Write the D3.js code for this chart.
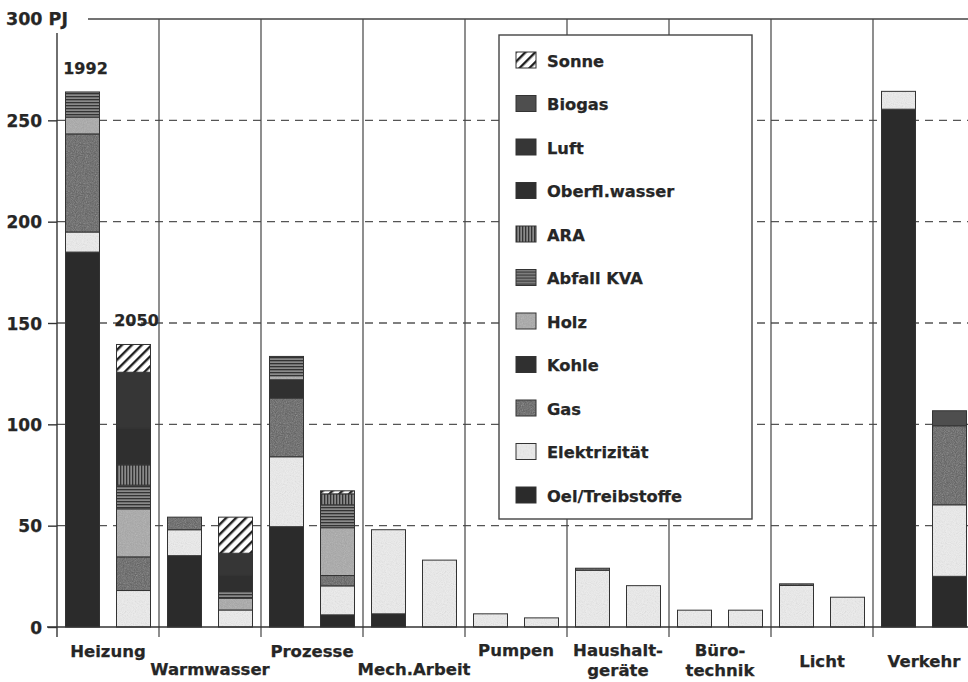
<!DOCTYPE html>
<html>
<head>
<meta charset="utf-8">
<script src="https://cdn.jsdelivr.net/npm/d3@7"></script>
<style>
  body { margin: 0; background: #fff; }
  svg text { font-family: "DejaVu Sans", sans-serif; font-weight: bold; fill: #262626; stroke: #262626; stroke-width: 0.25px; }
</style>
</head>
<body>
<svg id="chart" width="968" height="682"></svg>
<script>
// categories (x axis) and the two years per category
const categories = ["Heizung", "Warmwasser", "Prozesse", "Mech.Arbeit", "Pumpen", "Haushaltgeräte", "Bürotechnik", "Licht", "Verkehr"];
const categoryLabels = [["Heizung"], ["Warmwasser"], ["Prozesse"], ["Mech.Arbeit"], ["Pumpen"], ["Haushalt-", "geräte"], ["Büro-", "technik"], ["Licht"], ["Verkehr"]];
const years = ["1992", "2050"];
const yTicks = [0, 50, 100, 150, 200, 250];

// values in PJ, order: [H92, H50, W92, W50, P92, P50, M92, M50, Pu92, Pu50, Ha92, Ha50, B92, B50, L92, L50, V92, V50]
const oel      = [185, 0,    35.2, 0,    49.5, 6,    6.5, 0,  0, 0,     0, 0,  0, 0,     0, 0,      255.5, 25];
const elektr   = [9.9, 18,   12.8, 8.4,  34.5, 14.3, 41.5, 33, 6.5, 4.5, 28, 20.4, 8.3, 8.3, 20.5, 14.7, 8.8, 35.3];
const gas      = [48.4, 16.6, 6.2, 0,    29, 5.1,    0, 0,  0, 0,     1, 0,  0, 0,     0.8, 0,    0, 39];
const kohle    = [0, 0,      0, 0,       9, 0,       0, 0,  0, 0,     0, 0,  0, 0,     0, 0,      0, 0];
const holz     = [8.3, 23.7, 0, 5.8,     2, 23.6,    0, 0,  0, 0,     0, 0,  0, 0,     0, 0,      0, 0];
const abfall   = [12.4, 11.7, 0, 3.3,    9.5, 11.3,  0, 0,  0, 0,     0, 0,  0, 0,     0, 0,      0, 0];
const ara      = [0, 10,     0, 0,       0, 5.4,     0, 0,  0, 0,     0, 0,  0, 0,     0, 0,      0, 0];
const oberfl   = [0, 18,     0, 8,       0, 0,       0, 0,  0, 0,     0, 0,  0, 0,     0, 0,      0, 0];
const luft     = [0, 27.7,   0, 10.9,    0, 0,       0, 0,  0, 0,     0, 0,  0, 0,     0, 0,      0, 0];
const biogas   = [0, 0,      0, 0,       0, 0,       0, 0,  0, 0,     0, 0,  0, 0,     0, 0,      0, 7.4];
const sonne    = [0, 13.7,   0, 17.8,    0, 1.5,     0, 0,  0, 0,     0, 0,  0, 0,     0, 0,      0, 0];

// stacking order bottom -> top
const carriers = [
  {key: "Oel/Treibstoffe", values: oel,    fill: "#2b2b2b"},
  {key: "Elektrizität",    values: elektr, fill: "url(#pElek)"},
  {key: "Gas",             values: gas,    fill: "url(#pGas)"},
  {key: "Kohle",           values: kohle,  fill: "#303030"},
  {key: "Holz",            values: holz,   fill: "url(#pHolz)"},
  {key: "Abfall KVA",      values: abfall, fill: "url(#pAbfall)"},
  {key: "ARA",             values: ara,    fill: "url(#pAra)"},
  {key: "Oberfl.wasser",   values: oberfl, fill: "#2f2f2f"},
  {key: "Luft",            values: luft,   fill: "#363636"},
  {key: "Biogas",          values: biogas, fill: "#4e4e4e"},
  {key: "Sonne",           values: sonne,  fill: "url(#pSonne)"}
];

// flatten into rows for d3.stack
const rows = [];
categories.forEach((c, ci) => {
  years.forEach((yr, yi) => {
    const r = {cat: c, year: yr};
    carriers.forEach(k => r[k.key] = k.values[ci * 2 + yi]);
    rows.push(r);
  });
});

const svg = d3.select("#chart");
const defs = svg.append("defs");

// fill patterns
const speckle = defs.append("filter").attr("id", "speckle").attr("x", 0).attr("y", 0).attr("width", 1).attr("height", 1);
speckle.append("feTurbulence").attr("type", "fractalNoise").attr("baseFrequency", 0.9).attr("numOctaves", 2).attr("seed", 3).attr("result", "n");
speckle.append("feColorMatrix").attr("in", "n").attr("type", "saturate").attr("values", 0).attr("result", "g");
speckle.append("feComponentTransfer").attr("in", "g").attr("result", "a")
  .append("feFuncA").attr("type", "linear").attr("slope", 0.35);
speckle.append("feComposite").attr("in", "a").attr("in2", "SourceGraphic").attr("operator", "atop");

const texPattern = (id, base) => {
  const p = defs.append("pattern").attr("id", id).attr("patternUnits", "userSpaceOnUse").attr("width", 40).attr("height", 40);
  p.append("rect").attr("width", 40).attr("height", 40).attr("fill", base).attr("filter", "url(#speckle)");
};
texPattern("pElek", "#eeeeee");
texPattern("pGas", "#5c5c5c");
texPattern("pHolz", "#a8a8a8");

const pS = defs.append("pattern").attr("id", "pSonne").attr("patternUnits", "userSpaceOnUse")
  .attr("width", 7).attr("height", 7).attr("patternTransform", "rotate(45)");
pS.append("rect").attr("width", 7).attr("height", 7).attr("fill", "#fff");
pS.append("rect").attr("width", 2.4).attr("height", 7).attr("fill", "#222");

const pA = defs.append("pattern").attr("id", "pAbfall").attr("patternUnits", "userSpaceOnUse").attr("width", 4).attr("height", 3);
pA.append("rect").attr("width", 4).attr("height", 3).attr("fill", "#8a8a8a");
pA.append("rect").attr("width", 4).attr("height", 1.3).attr("fill", "#333");

const pR = defs.append("pattern").attr("id", "pAra").attr("patternUnits", "userSpaceOnUse").attr("width", 3).attr("height", 4);
pR.append("rect").attr("width", 3).attr("height", 4).attr("fill", "#8a8a8a");
pR.append("rect").attr("width", 1.3).attr("height", 4).attr("fill", "#333");

// scales
const x = d3.scaleBand().domain(categories).range([57, 975]).paddingInner(0).paddingOuter(0);
const xYear = d3.scaleBand().domain(years).range([0, x.bandwidth()]).paddingInner(1 / 3).paddingOuter(1 / 6);
const y = d3.scaleLinear().domain([0, 300]).range([627, 19]);

// dashed grid lines
svg.append("g").selectAll("line")
  .data(yTicks.filter(d => d > 0))
  .join("line")
  .attr("x1", 57).attr("x2", 968)
  .attr("y1", d => y(d)).attr("y2", d => y(d))
  .attr("stroke", "#555").attr("stroke-width", 1.4).attr("stroke-dasharray", "8,6");

// top line at 300
svg.append("line").attr("x1", 88).attr("x2", 968).attr("y1", y(300)).attr("y2", y(300))
  .attr("stroke", "#444").attr("stroke-width", 1.4);

// category dividers
svg.append("g").selectAll("line")
  .data(categories.slice(1))
  .join("line")
  .attr("x1", d => x(d)).attr("x2", d => x(d))
  .attr("y1", y(300)).attr("y2", 637)
  .attr("stroke", "#444").attr("stroke-width", 1.2);

// stacked bars
const stack = d3.stack().keys(carriers.map(c => c.key));
const layers = stack(rows);
svg.append("g").selectAll("g")
  .data(layers)
  .join("g")
  .attr("fill", (d, i) => carriers[i].fill)
  .selectAll("rect")
  .data(d => d.filter(s => s[1] - s[0] > 0))
  .join("rect")
  .attr("x", d => x(d.data.cat) + xYear(d.data.year))
  .attr("width", xYear.bandwidth())
  .attr("y", d => y(d[1]))
  .attr("height", d => y(d[0]) - y(d[1]))
  .attr("stroke", "#333").attr("stroke-width", 1);

// y axis
const yAxis = d3.axisLeft(y).tickValues(yTicks).tickSize(9).tickFormat(d3.format("d"));
const yg = svg.append("g").attr("transform", "translate(57,0)").call(yAxis);
yg.select(".domain").remove();
yg.selectAll(".tick line").attr("stroke", "#333").attr("stroke-width", 1.4);
yg.selectAll(".tick text").attr("x", -15).attr("dy", "0.36em").style("font-size", "17px").attr("fill", "#262626");
svg.append("line").attr("x1", 57).attr("x2", 57).attr("y1", 33).attr("y2", 637).attr("stroke", "#333").attr("stroke-width", 1.4);
svg.append("text").attr("x", 6).attr("y", y(300) + 6).style("font-size", "17.5px").text("300 PJ");

// x axis line
svg.append("line").attr("x1", 47).attr("x2", 968).attr("y1", y(0)).attr("y2", y(0)).attr("stroke", "#333").attr("stroke-width", 1.4);

// category labels
const labelBase = [657, 675, 657, 675, 656, 656, 656, 667, 667];
svg.append("g").selectAll("text")
  .data(categoryLabels)
  .join("text")
  .attr("text-anchor", "middle")
  .attr("x", (d, i) => x(categories[i]) + x.bandwidth() / 2)
  .attr("y", (d, i) => labelBase[i])
  .style("font-size", "16.5px")
  .selectAll("tspan")
  .data(d => d)
  .join("tspan")
  .attr("x", function () { return d3.select(this.parentNode).attr("x"); })
  .attr("dy", (d, i) => i === 0 ? 0 : 20)
  .text(d => d);

// year labels above the Heizung bars
const heiz = rows.filter(r => r.cat === "Heizung");
svg.append("g").selectAll("text")
  .data(heiz)
  .join("text")
  .attr("x", d => x(d.cat) + xYear(d.year) + xYear.bandwidth() / 2 + 3)
  .attr("y", d => y(d3.sum(carriers, c => d[c.key])) - 18)
  .attr("text-anchor", "middle")
  .style("font-size", "16px")
  .text(d => d.year);

// legend
const legend = svg.append("g");
legend.append("rect").attr("x", 499).attr("y", 35).attr("width", 253).attr("height", 484)
  .attr("fill", "#fff").attr("stroke", "#444").attr("stroke-width", 1.4);
const legendItems = carriers.slice().reverse();
const li = legend.selectAll("g.item")
  .data(legendItems)
  .join("g")
  .attr("class", "item")
  .attr("transform", (d, i) => `translate(516, ${60 + i * 43.5})`);
li.append("rect").attr("x", 0).attr("y", -8).attr("width", 20).attr("height", 16)
  .attr("fill", d => d.fill).attr("stroke", "#333").attr("stroke-width", 1);
li.append("text").attr("x", 31).attr("y", 6.5).style("font-size", "16.3px").text(d => d.key);
</script>
</body>
</html>
